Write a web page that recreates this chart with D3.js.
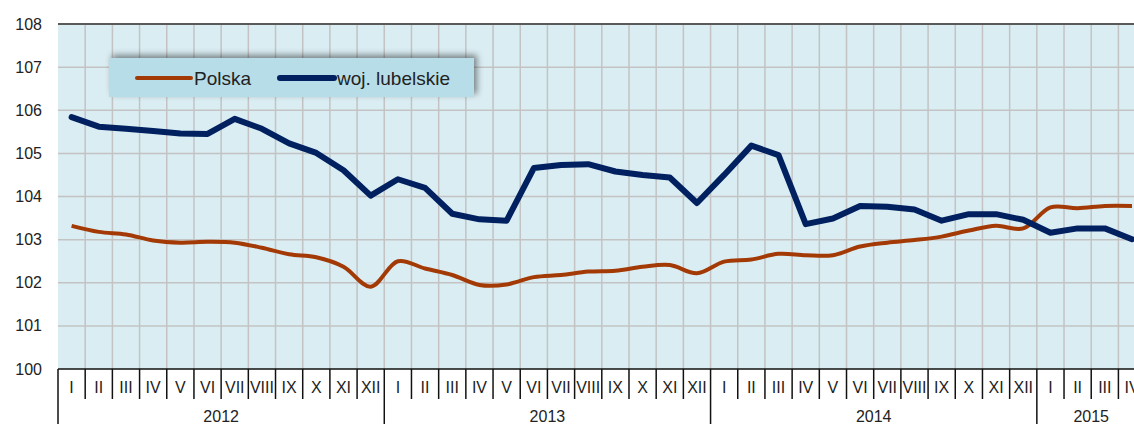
<!DOCTYPE html>
<html>
<head>
<meta charset="utf-8">
<script src="https://cdn.jsdelivr.net/npm/d3@7"></script>
<style>
  body { margin: 0; background: #fff; }
  svg { display: block; font-family: 'Liberation Sans', Arial, sans-serif; }
</style>
</head>
<body>
<svg id="chart" width="1134" height="424"></svg>
<script>
'use strict'

// data
const years = ['2012', '2013', '2014', '2015']
const months = ['I', 'II', 'III', 'IV', 'V', 'VI', 'VII', 'VIII', 'IX', 'X', 'XI', 'XII']
const monthCount = [12, 12, 12, 4]
const yTicks = [100, 101, 102, 103, 104, 105, 106, 107, 108]

const polska = [
    103.32, 103.18, 103.12, 102.98, 102.93, 102.95, 102.93, 102.81, 102.66, 102.59, 102.37, 101.91,
    102.50, 102.33, 102.18, 101.95, 101.96, 102.13, 102.18, 102.26, 102.28, 102.37, 102.41, 102.22,
    102.49, 102.54, 102.67, 102.64, 102.64, 102.84, 102.93, 102.99, 103.07, 103.21, 103.32, 103.26,
    103.75, 103.73, 103.78, 103.78
]
const lubelskie = [
    105.84, 105.62, 105.57, 105.52, 105.46, 105.45, 105.80, 105.57, 105.23, 105.01, 104.61, 104.02,
    104.40, 104.20, 103.60, 103.47, 103.44, 104.66, 104.73, 104.75, 104.58, 104.50, 104.44, 103.85,
    104.50, 105.18, 104.96, 103.36, 103.49, 103.78, 103.76, 103.70, 103.44, 103.59, 103.59, 103.46,
    103.16, 103.26, 103.26, 103.01
]

const svg = d3.select('#chart')

let margin = { top: 24, left: 58, bottom: 55 }
let bandW = 27.19
let plotBottom = 424 - margin.bottom

// one key per month, e.g. "2012-I"
let keys = []
years.forEach((y, yi) => { for (let m = 0; m < monthCount[yi]; m++) keys.push(y + '-' + months[m]) })

let x = d3.scaleBand().domain(keys).range([margin.left, margin.left + keys.length * bandW])
let y = d3.scaleLinear().domain([100, 108]).range([plotBottom, margin.top])

let defs = svg.append('defs')
let shadow = defs.append('filter').attr('id', 'shadow').attr('x', '-20%').attr('y', '-40%').attr('width', '140%').attr('height', '180%')
shadow.append('feDropShadow').attr('dx', 3).attr('dy', -3).attr('stdDeviation', 3).attr('flood-color', '#000').attr('flood-opacity', 0.45)

// plot background
svg.append('rect')
    .attr('x', margin.left).attr('y', margin.top)
    .attr('width', x.range()[1] - margin.left).attr('height', plotBottom - margin.top)
    .attr('fill', '#daedf3')

// horizontal grid
svg.append('g')
    .selectAll('line')
    .data(yTicks.slice(1))
    .enter()
    .append('line')
    .attr('x1', margin.left).attr('x2', x.range()[1])
    .attr('y1', d => y(d)).attr('y2', d => y(d))
    .attr('stroke', '#c3c3c3').attr('stroke-width', 1.5)

// vertical grid
svg.append('g')
    .selectAll('line')
    .data(keys.slice(1))
    .enter()
    .append('line')
    .attr('x1', d => x(d)).attr('x2', d => x(d))
    .attr('y1', margin.top).attr('y2', plotBottom)
    .attr('stroke', '#c3c3c3').attr('stroke-width', 1.5)

// top border
svg.append('line')
    .attr('x1', margin.left).attr('x2', x.range()[1])
    .attr('y1', margin.top).attr('y2', margin.top)
    .attr('stroke', '#5a5a5a').attr('stroke-width', 2)

// y axis labels
svg.append('g')
    .selectAll('text')
    .data(yTicks)
    .enter()
    .append('text')
    .attr('x', 42)
    .attr('y', d => y(d))
    .attr('dy', '0.35em')
    .attr('text-anchor', 'end')
    .attr('font-size', '16px')
    .attr('fill', '#222')
    .text(d => d)

// lines
let cx = k => x(k) + x.bandwidth() / 2

let polskaLine = d3.line().x((d, i) => cx(keys[i])).y(d => y(d)).curve(d3.curveCatmullRom)
let lubLine = d3.line().x((d, i) => cx(keys[i])).y(d => y(d))

svg.append('path')
    .datum(polska)
    .attr('d', polskaLine)
    .attr('fill', 'none')
    .attr('stroke', '#a33a05')
    .attr('stroke-width', 4)
    .attr('stroke-linejoin', 'round')

svg.append('path')
    .datum(lubelskie)
    .attr('d', lubLine)
    .attr('fill', 'none')
    .attr('stroke', '#002060')
    .attr('stroke-width', 6)
    .attr('stroke-linejoin', 'round')
    .attr('stroke-linecap', 'round')

// category axis
let axis = svg.append('g')
axis.append('line')
    .attr('x1', margin.left).attr('x2', x.range()[1])
    .attr('y1', plotBottom).attr('y2', plotBottom)
    .attr('stroke', '#111').attr('stroke-width', 1.5)

axis.append('g')
    .selectAll('line')
    .data(keys)
    .enter()
    .append('line')
    .attr('x1', d => x(d)).attr('x2', d => x(d))
    .attr('y1', plotBottom)
    .attr('y2', d => d.endsWith('-I') ? 424 : plotBottom + 30)
    .attr('stroke', '#111').attr('stroke-width', 1.5)

axis.append('g')
    .selectAll('text')
    .data(keys)
    .enter()
    .append('text')
    .attr('x', d => cx(d))
    .attr('y', plotBottom + 18)
    .attr('dy', '0.35em')
    .attr('text-anchor', 'middle')
    .attr('font-size', '16px')
    .attr('fill', '#222')
    .text(d => d.split('-')[1])

axis.append('g')
    .selectAll('text')
    .data(years)
    .enter()
    .append('text')
    .attr('x', (d, i) => {
        let first = x(d + '-I')
        let last = x(d + '-' + months[monthCount[i] - 1]) + x.bandwidth()
        return (first + last) / 2
    })
    .attr('y', plotBottom + 47)
    .attr('dy', '0.35em')
    .attr('text-anchor', 'middle')
    .attr('font-size', '16px')
    .attr('fill', '#222')
    .text(d => d)

// legend
let legend = svg.append('g').attr('transform', 'translate(109, 58)')
legend.append('rect')
    .attr('width', 365).attr('height', 39)
    .attr('fill', '#b7dde8')
    .attr('filter', 'url(#shadow)')

let items = [
    { name: 'Polska', color: '#a33a05', w: 4, x0: 28 },
    { name: 'woj. lubelskie', color: '#002060', w: 6, x0: 171 }
]
let li = legend.selectAll('g.item').data(items).enter().append('g').attr('class', 'item')
li.append('line')
    .attr('x1', d => d.x0).attr('x2', d => d.x0 + 54)
    .attr('y1', 20).attr('y2', 20)
    .attr('stroke', d => d.color).attr('stroke-width', d => d.w)
    .attr('stroke-linecap', 'round')
li.append('text')
    .attr('x', d => d.x0 + 57)
    .attr('y', 20)
    .attr('dy', '0.35em')
    .attr('font-size', '19px')
    .attr('fill', '#222')
    .text(d => d.name)
</script>
</body>
</html>
